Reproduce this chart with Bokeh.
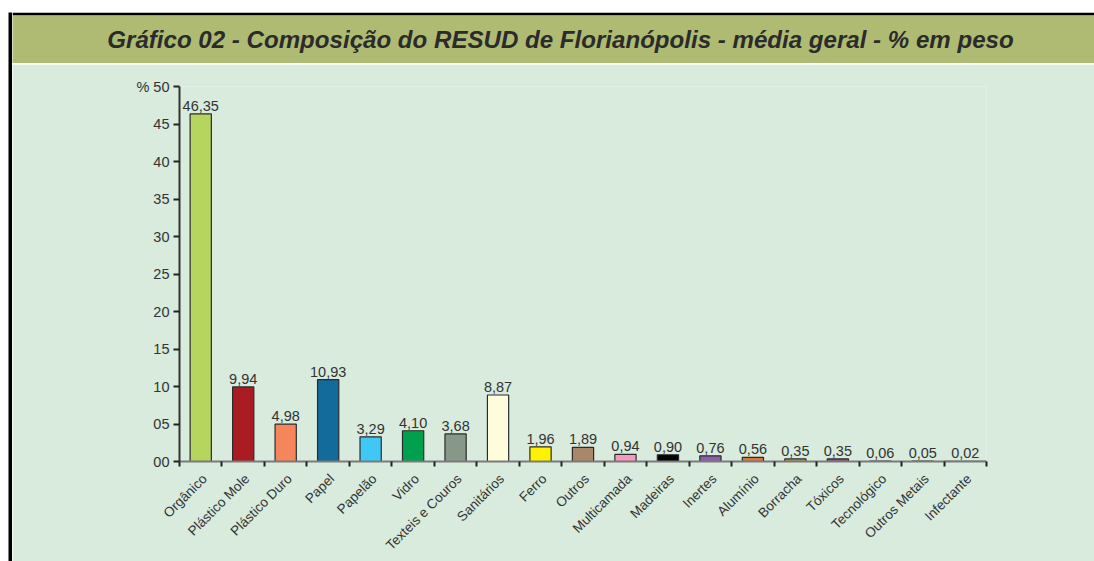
from bokeh.plotting import figure
from bokeh.models import (FixedTicker, Label, ColumnDataSource, Range1d, LinearAxis, Spacer)
from bokeh.layouts import row, column
from bokeh.core.properties import value
from bokeh.embed import file_html
from bokeh.resources import INLINE
import math

# ---- data ----
categories = ["Orgânico", "Plástico Mole", "Plástico Duro", "Papel", "Papelão",
              "Vidro", "Texteis e Couros", "Sanitários", "Ferro", "Outros",
              "Multicamada", "Madeiras", "Inertes", "Alumínio", "Borracha",
              "Tóxicos", "Tecnológico", "Outros Metais", "Infectante"]
values = [46.35, 9.94, 4.98, 10.93, 3.29, 4.10, 3.68, 8.87, 1.96, 1.89,
          0.94, 0.90, 0.76, 0.56, 0.35, 0.35, 0.06, 0.05, 0.02]
bar_colors = ["#B5D55F", "#A81C22", "#F5865B", "#126B9B", "#40C8F4",
              "#00A04E", "#879789", "#FFFCDB", "#FFF200", "#A98769",
              "#F49AC1", "#050505", "#8C5DA8", "#D6783F", "#B39A5A",
              "#8E4D86", "#888888", "#666666", "#222222"]
y_ticks = [0, 5, 10, 15, 20, 25, 30, 35, 40, 45, 50]
y_tick_labels = ["00", "05", "10", "15", "20", "25", "30", "35", "40", "45", "% 50"]
title_text = "Gráfico 02 - Composição do RESUD de Florianópolis - média geral - % em peso"

BG = "#D8EBDD"
OLIVE = "#AFBB73"
FONT = "Liberation Sans"
TXT = "#333333"
IW = 1082  # inner width (right of the black left rule)


def block(w, h, color):
    f = figure(width=w, height=h, output_backend="svg", toolbar_location=None,
               x_axis_type=None, y_axis_type=None, min_border=0,
               x_range=Range1d(0, 1), y_range=Range1d(0, 1))
    f.background_fill_color = color
    f.border_fill_color = color
    f.outline_line_color = None
    f.xgrid.visible = False
    f.ygrid.visible = False
    f.frame_align = False
    return f


# ---- title band (black top rule = border above the olive frame) ----
tf = figure(width=IW, height=51, output_backend="svg", toolbar_location=None,
            x_axis_type=None, y_axis_type=None,
            min_border_left=0, min_border_right=0, min_border_bottom=0,
            min_border_top=3,
            x_range=Range1d(0, IW), y_range=Range1d(0, 48))
tf.frame_align = False
tf.background_fill_color = OLIVE
tf.border_fill_color = "black"
tf.outline_line_color = None
tf.xgrid.visible = False
tf.ygrid.visible = False
tf.add_layout(Label(x=548, y=24, text=title_text, text_align="center",
                    text_baseline="middle", text_font=FONT,
                    text_font_style="bold italic", text_font_size="24.1px",
                    text_color="#2B2B2B"))

# ---- chart ----
n = len(categories)
xs = [i + 0.5 for i in range(n)]
widths = [0.5] * n
widths[-1] = 1.0
labels = [f"{v:.2f}".replace(".", ",") for v in values]
src = ColumnDataSource(dict(x=xs, top=values, w=widths, color=bar_colors, lab=labels))

p = figure(width=IW, height=497, output_backend="svg", toolbar_location=None,
           x_range=Range1d(0, n), y_range=Range1d(0, 50),
           x_axis_type=None, y_axis_type=None,
           min_border_left=167, min_border_right=108,
           min_border_top=22, min_border_bottom=99)
p.frame_align = False
p.background_fill_color = BG
p.border_fill_color = BG
p.outline_line_color = None
p.xgrid.visible = False
p.ygrid.visible = False

p.vbar(x="x", top="top", width="w", bottom=0, source=src,
       fill_color="color", line_color="#2B2B2B", line_width=1.2)

p.text(x="x", y="top", text="lab", source=src, text_align="center",
       text_baseline="bottom", y_offset=-3, text_font=value(FONT),
       text_font_size="14.5px", text_color=TXT)

yaxis = LinearAxis(ticker=FixedTicker(ticks=y_ticks),
                   major_label_overrides={t: l for t, l in zip(y_ticks, y_tick_labels)})
yaxis.axis_line_color = "#333333"
yaxis.axis_line_width = 2
yaxis.major_tick_line_color = "#222222"
yaxis.major_tick_line_width = 2
yaxis.major_tick_in = 0
yaxis.major_tick_out = 6
yaxis.minor_tick_line_color = None
yaxis.major_label_standoff = 4
yaxis.major_label_text_font = FONT
yaxis.major_label_text_font_size = "14.5px"
yaxis.major_label_text_color = TXT
p.add_layout(yaxis, "left")

label_pos = [x + 0.09 for x in xs]
xaxis = LinearAxis(ticker=FixedTicker(ticks=label_pos, minor_ticks=list(range(n + 1))),
                   major_label_overrides={x: c for x, c in zip(label_pos, categories)})
xaxis.axis_line_color = "#7A7A7A"
xaxis.axis_line_width = 2
xaxis.major_tick_line_color = None
xaxis.minor_tick_line_color = "#222222"
xaxis.minor_tick_line_width = 2
xaxis.minor_tick_in = 0
xaxis.minor_tick_out = 5
xaxis.major_label_orientation = math.pi / 4
xaxis.major_label_standoff = 9
xaxis.major_label_text_font = FONT
xaxis.major_label_text_font_size = "13.5px"
xaxis.major_label_text_color = TXT
p.add_layout(xaxis, "below")

# ---- frame: white margin, black rules, title band, chart ----
inner = column(tf, block(IW, 1, "#EEF2E2"), p)
framed = row(block(4, 549, "black"), inner)
layout = row(Spacer(width=8, height=561),
             column(Spacer(width=4 + IW, height=12), framed))

open("out.html", "w").write(file_html(layout, INLINE))
